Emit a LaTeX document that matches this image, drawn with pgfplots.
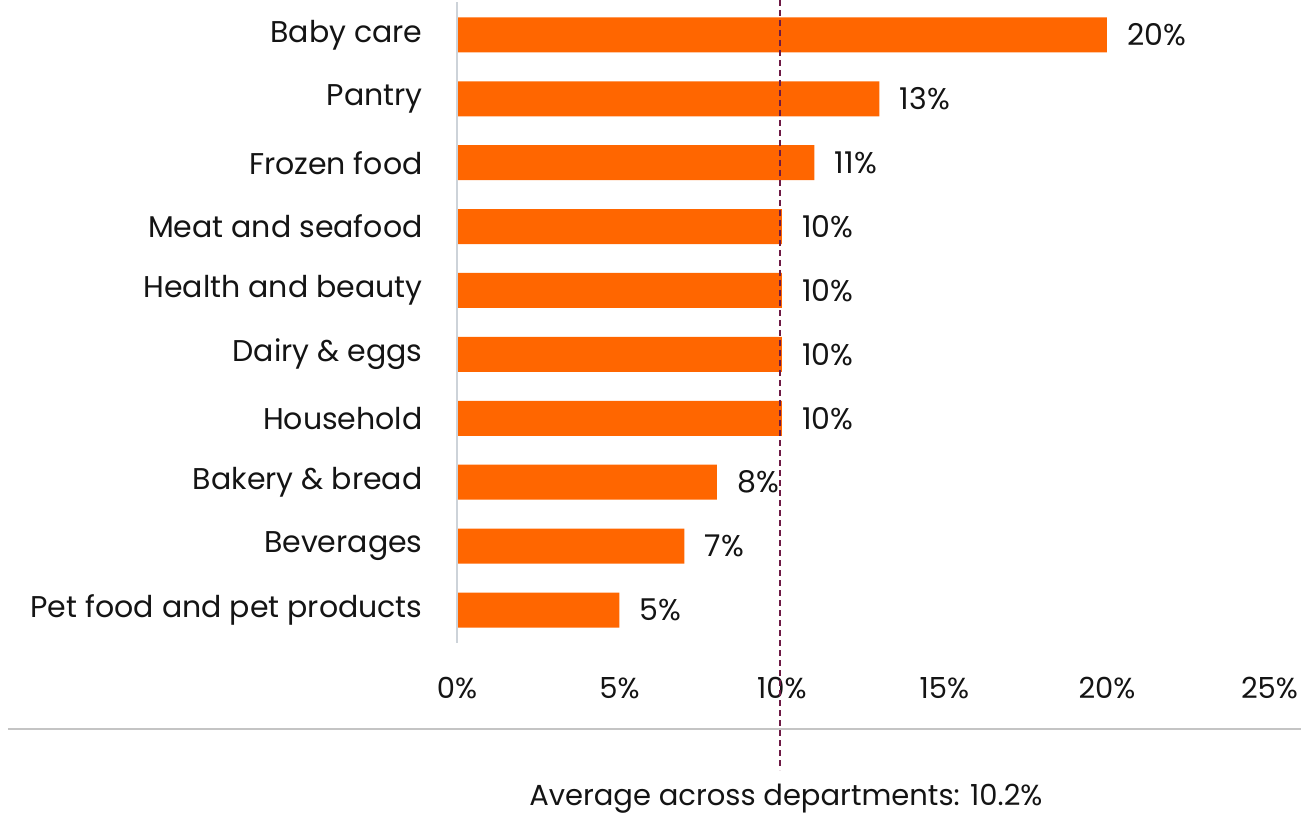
\documentclass[border=0pt]{standalone}
\usepackage{pgfplots}
\pgfplotsset{compat=1.18}
\usepackage{fontspec}
\setmainfont{Poppins}
\definecolor{barorange}{HTML}{FF6600}
\definecolor{avgline}{HTML}{6E1A45}
\definecolor{axgray}{HTML}{CDD3D9}
\definecolor{hgray}{HTML}{C4C4C4}
\definecolor{txt}{HTML}{141414}
\begin{document}
\begin{tikzpicture}
\begin{axis}[
  x=16.25pt, y=31.95pt,
  xbar, bar width=17.5pt,
  xmin=0, xmax=25, ymin=-0.516, ymax=9.515,
  xtick={0,5,...,25},
  xticklabel={\pgfmathprintnumber{\tick}\%},
  ytick={0,...,9},
  yticklabels={Pet food and pet products, Beverages, Bakery \& bread, Household, Dairy \& eggs, Health and beauty, Meat and seafood, Frozen food, Pantry, Baby care},
  axis line style={draw=none},
  major tick length=0pt,
  /pgf/number format/assume math mode=true,
  ticklabel style={font=\fontsize{14.5}{16}\selectfont, text=txt},
  yticklabel style={anchor=east, inner sep=0pt, xshift=-17pt, font=\fontsize{15}{17}\selectfont},
  xticklabel style={anchor=center, inner sep=0pt, yshift=-22.5pt},
  nodes near coords={\pgfmathprintnumber{\pgfplotspointmeta}\%},
  nodes near coords style={anchor=west, inner sep=0pt, xshift=10pt, font=\fontsize{15}{17}\selectfont, text=txt},
  clip=false,
]
\addplot[fill=barorange, draw=none] coordinates {
  (5,0) (7,1) (8,2) (10,3) (10,4) (10,5) (10,6) (11,7) (13,8) (20,9)
};
\draw[axgray, line width=1pt] (axis cs:0,-0.516) -- (axis cs:0,9.515);
\draw[hgray, line width=0.7pt] (axis cs:-13.82,-1.862) -- (axis cs:25.97,-1.862);
\draw[avgline, dash pattern=on 3pt off 2pt, line width=0.9pt] (axis cs:9.95,9.546) -- (axis cs:9.95,-2.504);
\node[anchor=base, inner sep=0pt, font=\fontsize{14.5}{17}\selectfont, text=txt] at (axis cs:10.12,-3.06) {Average across departments: 10.2\%};
\coordinate (bbtl) at (axis cs:-14.06,9.546);
\coordinate (bbbr) at (axis cs:25.97,-3.208);
\end{axis}
\pgfresetboundingbox
\path[use as bounding box] (bbtl) rectangle (bbbr);
\end{tikzpicture}
\end{document}
